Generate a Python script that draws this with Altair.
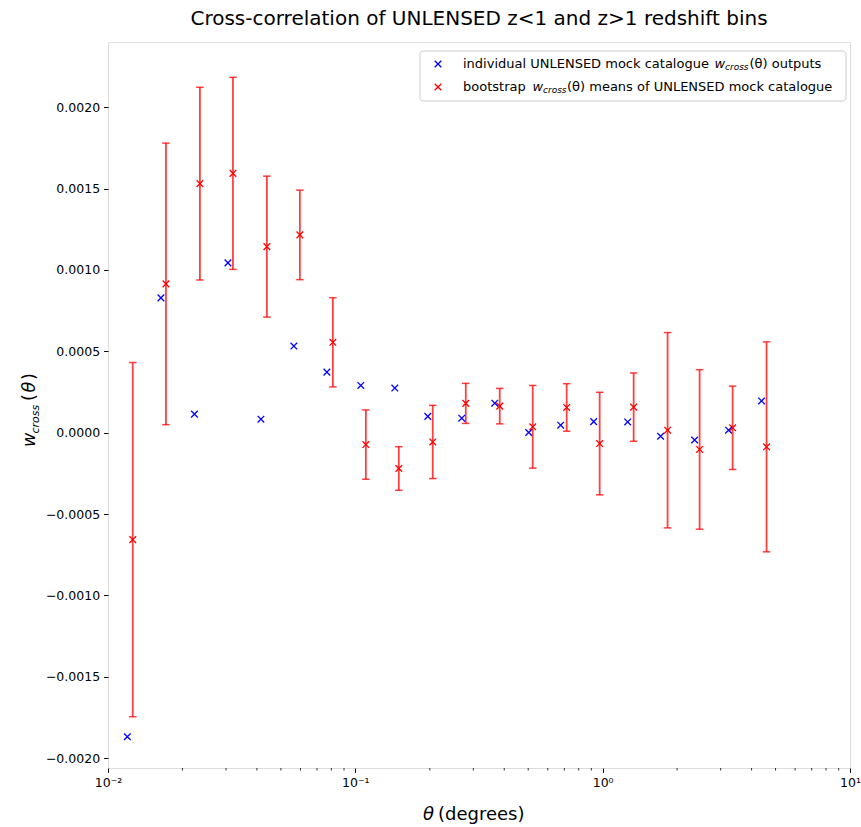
import altair as alt
import pandas as pd

# ---------------- data ----------------
theta_ind = [0.01197, 0.01637, 0.02236, 0.03054, 0.04152, 0.05642, 0.07672, 0.1052,
             0.1444, 0.1963, 0.2693, 0.3662, 0.5023, 0.6764, 0.9197, 1.262, 1.715,
             2.353, 3.228, 4.389]
w_ind = [-0.001868, 0.000828, 0.000114, 0.001043, 0.000083, 0.000532, 0.000372, 0.000290,
         0.000274, 0.000100, 0.000089, 0.000181, 0.000001, 0.000046, 0.000068, 0.000066,
         -0.000022, -0.000045, 0.000015, 0.000195]

theta_boot = [0.01259, 0.01715, 0.02353, 0.03200, 0.04389, 0.05967, 0.08111, 0.1103,
              0.1499, 0.2056, 0.2796, 0.3836, 0.5215, 0.7153, 0.9725, 1.3344, 1.8302,
              2.466, 3.353, 4.599]
w_boot = [-0.000657, 0.000914, 0.001530, 0.001593, 0.001143, 0.001215, 0.000555, -0.000073,
          -0.000220, -0.000057, 0.000180, 0.000163, 0.000036, 0.000155, -0.000067, 0.000157,
          0.000015, -0.000103, 0.000030, -0.000087]
w_boot_err = [0.001088, 0.000865, 0.000592, 0.000590, 0.000433, 0.000275, 0.000274, 0.000213,
              0.000134, 0.000225, 0.000123, 0.000109, 0.000254, 0.000146, 0.000315, 0.000210,
              0.000600, 0.000490, 0.000256, 0.000645]

y_ticks = [-0.002, -0.0015, -0.001, -0.0005, 0.0, 0.0005, 0.001, 0.0015, 0.002]
x_ticks = [0.01, 0.1, 1, 10]
x_tick_labels = ["10⁻²", "10⁻¹", "10⁰", "10¹"]
x_minor = [m * d for d in (0.01, 0.1, 1) for m in range(2, 10)]

title_text = "Cross-correlation of UNLENSED z<1 and z>1 redshift bins"
legend_ind = ["individual UNLENSED mock catalogue", "w", "cross", "(θ) outputs"]
legend_boot = ["bootstrap", "w", "cross", "(θ) means of UNLENSED mock catalogue"]

# ---------------- layout ----------------
W, H = 742, 726
FONT = "DejaVu Sans"
RED = "#ff0000"
BLUE = "#0000ff"
XSHAPE = "M-1,-1L1,1M-1,1L1,-1"

ind = pd.DataFrame({"theta": theta_ind, "w": w_ind})
boot = pd.DataFrame({"theta": theta_boot, "w": w_boot, "err": w_boot_err})
boot["lo"] = boot["w"] - boot["err"]
boot["hi"] = boot["w"] + boot["err"]

label_expr = "[" + ",".join("'%s'" % s for s in x_tick_labels) + "][round(log(datum.value)/LN10)+2]"

xscale = alt.Scale(type="log", domain=[0.01, 10], nice=False)
yscale = alt.Scale(domain=[-0.00206, 0.0024], nice=False, zero=False)

xaxis = alt.Axis(values=x_ticks, labelExpr=label_expr, title=None, grid=False, domain=False,
                 labelFont=FONT, labelFontSize=12.5, labelColor="black", tickColor="black",
                 tickSize=4.4, labelPadding=4, labelFlush=False, labelOverlap=False)
yaxis = alt.Axis(values=y_ticks, format=".4f", title=None, grid=False, domain=False,
                 labelFont=FONT, labelFontSize=12.5, labelColor="black", tickColor="black",
                 tickSize=4.4, labelPadding=4)

base_b = alt.Chart(boot)

bars = base_b.mark_rule(color=RED, strokeWidth=1.8, opacity=0.75).encode(
    x=alt.X("theta:Q", scale=xscale, axis=xaxis),
    y=alt.Y("lo:Q", scale=yscale, axis=yaxis),
    y2="hi:Q",
)
caps = base_b.transform_fold(["lo", "hi"], as_=["end", "val"]).mark_tick(
    color=RED, orient="horizontal", size=7.5, thickness=1.5, opacity=0.75
).encode(x="theta:Q", y="val:Q")

pts_b = base_b.mark_point(shape=XSHAPE, filled=False, color=RED, size=44,
                          strokeWidth=1.3, opacity=1).encode(x="theta:Q", y="w:Q")
pts_i = alt.Chart(ind).mark_point(shape=XSHAPE, filled=False, color=BLUE, size=44,
                                  strokeWidth=1.3, opacity=1).encode(x="theta:Q", y="w:Q")

minor = alt.Chart(pd.DataFrame({"m": x_minor})).mark_rule(color="black", strokeWidth=0.8).encode(
    x="m:Q", y=alt.value(H), y2=alt.value(H + 2.5))

one = pd.DataFrame({"k": [0]})


def txt(text, x, y, size, italic=False, align="left", baseline="middle", angle=0, color="black"):
    kw = dict(text=text, font=FONT, fontSize=size, align=align, baseline=baseline, color=color)
    if italic:
        kw["fontStyle"] = "italic"
    if angle:
        kw["angle"] = angle
    return alt.Chart(one).mark_text(**kw).encode(x=alt.value(x), y=alt.value(y))


# title
title = txt(title_text, W / 2, -17.5, 20, align="center", baseline="alphabetic")

# legend
leg_box = alt.Chart(one).mark_rect(fill="white", fillOpacity=0.85, stroke="#cccccc",
                                   strokeWidth=1, cornerRadius=3).encode(
    x=alt.value(312), x2=alt.value(738), y=alt.value(9), y2=alt.value(59))
leg_m1 = alt.Chart(one).mark_point(shape=XSHAPE, filled=False, color=BLUE, size=44,
                                   strokeWidth=1.3, opacity=1).encode(x=alt.value(330), y=alt.value(22))
leg_m2 = alt.Chart(one).mark_point(shape=XSHAPE, filled=False, color=RED, size=44,
                                   strokeWidth=1.3, opacity=1).encode(x=alt.value(330), y=alt.value(45))
LF = 13
SF = 9
leg_texts = [
    txt(legend_ind[0], 355, 22, LF),
    txt(legend_ind[1], 606.5, 22, LF, italic=True),
    txt(legend_ind[2], 617, 25, SF, italic=True),
    txt(legend_ind[3], 641.5, 22, LF),
    txt(legend_boot[0], 355, 45, LF),
    txt(legend_boot[1], 424.5, 45, LF, italic=True),
    txt(legend_boot[2], 435, 48, SF, italic=True),
    txt(legend_boot[3], 459, 45, LF),
]

# axis labels
ylab = [
    txt("w", -73, 405, 17.5, italic=True, baseline="alphabetic", angle=270),
    txt("cross", -69.5, 391.5, 11, italic=True, baseline="alphabetic", angle=270),
    txt("(", -73, 359, 17.5, baseline="alphabetic", angle=270),
    txt("θ", -73, 350.5, 17.5, italic=True, baseline="alphabetic", angle=270),
    txt(")", -73, 338, 17.5, baseline="alphabetic", angle=270),
]
xlab = [
    txt("θ", 315, H + 52, 18, italic=True, baseline="alphabetic"),
    txt("(degrees)", 330, H + 52, 18, baseline="alphabetic"),
]

chart = alt.layer(bars, caps, pts_b, pts_i, minor, leg_box, leg_m1, leg_m2,
                  *leg_texts, *ylab, *xlab, title).properties(
    width=W, height=H,
    autosize=alt.AutoSizeParams(type="none"),
    padding={"left": 108, "top": 42, "right": 11, "bottom": 59},
).configure_view(stroke="#444444", strokeWidth=1).configure(background="white")

chart.save("out.html", embed_options={"renderer": "svg", "actions": False})
